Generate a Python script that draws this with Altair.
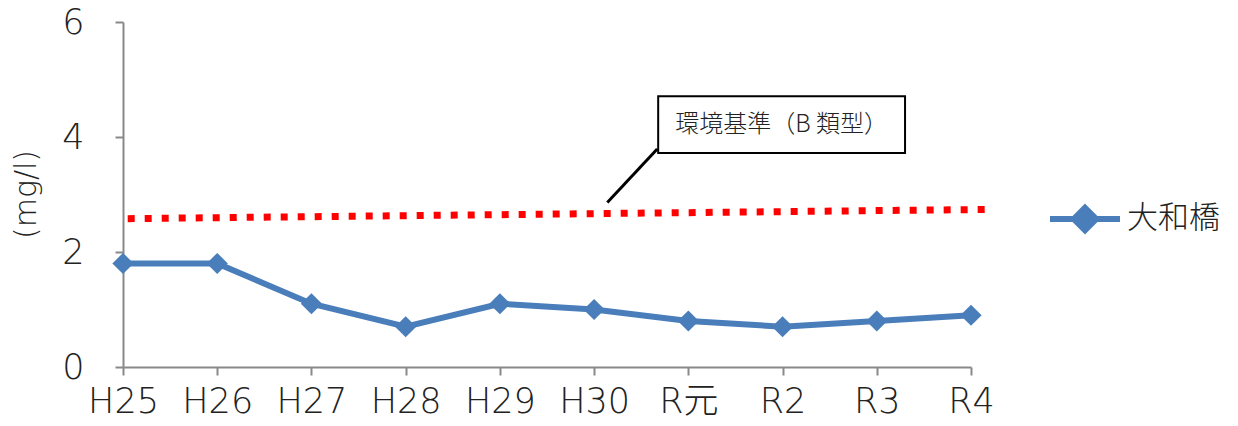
import json
import altair as alt
import pandas as pd

# Survey years (x axis) and BOD readings at 大和橋 (mg/l)
years = ["H25", "H26", "H27", "H28", "H29", "H30", "R元", "R2", "R3", "R4"]
values = [1.8, 1.8, 1.1, 0.7, 1.1, 1.0, 0.8, 0.7, 0.8, 0.9]
site = "大和橋"

# Environmental standard guide line (drawn slightly sloped), in data units
std_x = [0.05, 9.15]
std_y = [2.58, 2.74]

# Callout box and leader line, in data units
box_x = [5.68, 8.30]
box_y = [3.72, 4.71]
leader_x = [5.67, 5.14]
leader_y = [3.79, 2.86]
callout_text = "環境基準（B 類型）"

LATIN = "DejaVu Sans, 'Noto Sans CJK JP'"
CJK = "'Noto Sans CJK JP'"
BLUE = "#4A7EBB"
GREY = "#898989"
INK = "#222222"

df = pd.DataFrame({"idx": list(range(len(years))), "value": values, "site": site})
std_df = pd.DataFrame({"x": std_x, "y": std_y})
box_df = pd.DataFrame({"x": [box_x[0]], "x2": [box_x[1]], "y": [box_y[0]], "y2": [box_y[1]]})
leader_df = pd.DataFrame({"x": leader_x, "y": leader_y})
text_df = pd.DataFrame({"x": [sum(box_x) / 2], "y": [sum(box_y) / 2], "t": [callout_text]})

label_expr = f"{json.dumps(years, ensure_ascii=False)}[datum.value]"

x_scale = alt.Scale(domain=[0, len(years) - 1], nice=False, zero=False)
y_scale = alt.Scale(domain=[0, 6], nice=False)

x_axis = alt.Axis(
    values=list(range(len(years))), labelExpr=label_expr, title=None, grid=False,
    domainColor=GREY, domainWidth=2, tickColor=GREY, tickWidth=2, tickSize=8,
    labelFont=LATIN, labelFontSize=35, labelFontWeight=200, labelColor=INK,
    labelPadding=9, labelFlush=False, labelOverlap=False,
)
y_axis = alt.Axis(
    values=[0, 2, 4, 6], format="d", title="(mg/l)", grid=False,
    domainColor=GREY, domainWidth=2, tickColor=GREY, tickWidth=2, tickSize=8,
    labelFont=LATIN, labelFontSize=35, labelFontWeight=200, labelColor=INK,
    labelPadding=31,
    titleFont=LATIN, titleFontSize=30, titleFontWeight=200, titleColor=INK,
    titleX=-97, titleY=172, titleBaseline="middle",
)

legend = alt.Legend(
    title=None, orient="none", legendX=924, legendY=159,
    symbolType="M-1,0L1,0M0,-0.32L0.32,0L0,0.32L-0.32,0Z",
    symbolSize=4900, symbolStrokeWidth=6, symbolFillColor=BLUE,
    symbolStrokeColor=BLUE, labelFont=CJK, labelFontSize=31, labelFontWeight=300,
    labelColor=INK, labelOffset=4,
)


def xy(xf, yf):
    return dict(
        x=alt.X(xf, scale=x_scale, axis=x_axis),
        y=alt.Y(yf, scale=y_scale, axis=y_axis),
    )


series = alt.Chart(df).mark_line(
    strokeWidth=6, point=alt.OverlayMarkDef(shape="diamond", size=450, filled=True, opacity=1)
).encode(
    color=alt.Color("site:N", scale=alt.Scale(domain=[site], range=[BLUE]), legend=legend),
    **xy("idx:Q", "value:Q"),
)

standard = alt.Chart(std_df).mark_line(
    color="#FF0000", strokeWidth=7, strokeDash=[7, 10], strokeCap="butt"
).encode(**xy("x:Q", "y:Q"))

leader = alt.Chart(leader_df).mark_line(color="#000000", strokeWidth=3).encode(**xy("x:Q", "y:Q"))

box = alt.Chart(box_df).mark_rect(fill="white", stroke="black", strokeWidth=2).encode(
    x2="x2:Q", y2="y2:Q", **xy("x:Q", "y:Q")
)

label = alt.Chart(text_df).mark_text(
    font=CJK, fontSize=24, fontWeight=300, color=INK, align="center", baseline="middle"
).encode(text="t:N", **xy("x:Q", "y:Q"))

chart = alt.layer(series, standard, leader, box, label).properties(
    width=848, height=345,
    background="white",
    autosize=alt.AutoSizeParams(type="none"),
    padding={"left": 123, "top": 22, "right": 267, "bottom": 59},
).configure_view(stroke=None)

chart.save("out.html", embed_options={"renderer": "svg", "actions": False})
